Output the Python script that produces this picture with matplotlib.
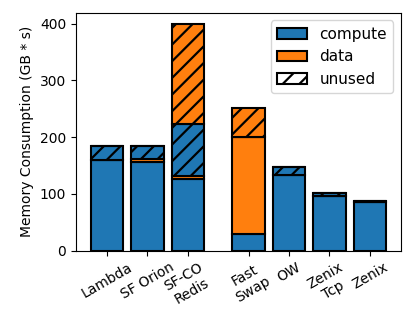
import matplotlib
matplotlib.use("Agg")
import matplotlib.pyplot as plt
import numpy as np
from matplotlib.patches import Patch

labels = ["Lambda", "SF Orion", "SF-CO\nRedis", "Fast\nSwap", "OW", "Zenix\nTcp", "Zenix"]
positions = [0, 1, 2, 3.5, 4.5, 5.5, 6.5]
compute = [160, 157, 126, 30, 133, 97, 85]
data = [0, 5, 5, 170, 0, 0, 0]
unused_compute = [25, 23, 93, 0, 14, 4, 3]
unused_data = [0, 0, 175, 51, 0, 0, 0]

blue = "#1f77b4"
orange = "#ff7f0e"

plt.rcParams["hatch.linewidth"] = 1.6

fig = plt.figure(figsize=(4.15, 3.29), dpi=100)
ax = fig.add_axes([0.183, 0.238, 0.783, 0.723])

c = np.array(compute, float)
d = np.array(data, float)
uc = np.array(unused_compute, float)
ud = np.array(unused_data, float)

kw = dict(width=0.8, edgecolor="black", linewidth=1.5)
ax.bar(positions, c, color=blue, **kw)
ax.bar(positions, d, bottom=c, color=orange, **kw)
ax.bar(positions, uc, bottom=c + d, color=blue, hatch="//", **kw)
ax.bar(positions, ud, bottom=c + d + uc, color=orange, hatch="//", **kw)

ax.set_xticks(positions)
ax.set_xticklabels(labels, rotation=30, ha="center")
ax.set_ylabel("Memory Consumption (GB * s)")
ax.set_yticks([0, 100, 200, 300, 400])

handles = [
    Patch(facecolor=blue, edgecolor="black", linewidth=1.5, label="compute"),
    Patch(facecolor=orange, edgecolor="black", linewidth=1.5, label="data"),
    Patch(facecolor="white", edgecolor="black", linewidth=1.5, hatch="//", label="unused"),
]
ax.legend(handles=handles, loc="upper right", fontsize=11)

fig.savefig("out.png", dpi=100)
